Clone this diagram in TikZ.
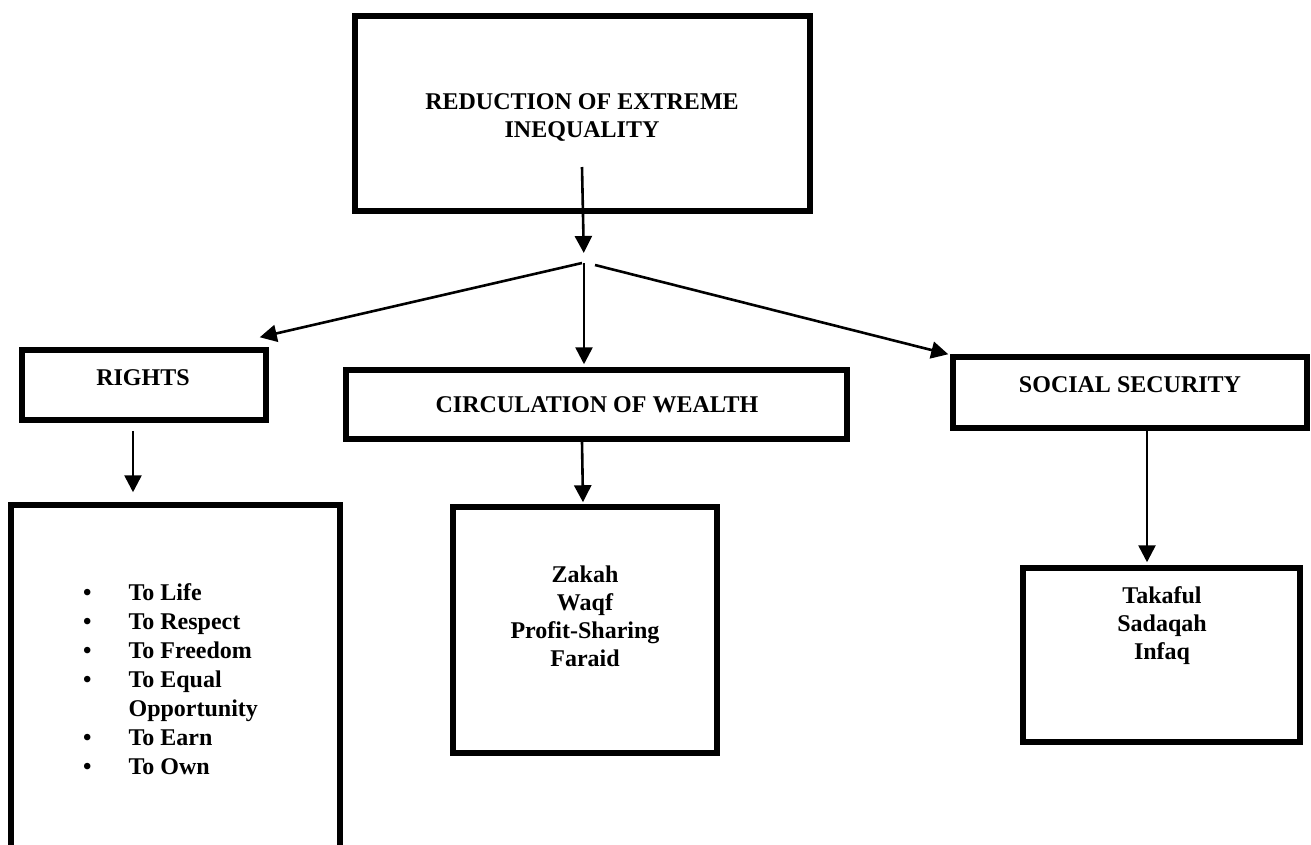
\documentclass[tikz,border=0pt]{standalone}
\usepackage{fontspec}
\setmainfont{Liberation Serif}
\usetikzlibrary{arrows.meta,positioning}
\tikzset{
  box/.style={draw=black,line width=5.5pt,inner sep=0pt},
  boxtext/.style={font=\bfseries\fontsize{24}{28}\selectfont,align=center,
    inner sep=0pt},
  arrow/.style={-{Triangle[length=17pt,width=17pt]},line width=2.6pt}
}

\begin{document}
\begin{tikzpicture}[x=1pt,y=-1pt]
  \useasboundingbox (0,0) rectangle (1311,844);
  \clip (0,0) rectangle (1311,844);
  % boxes
  \node[box,minimum width=455pt,minimum height=195pt] (top) at (582.5,113.5) {};
  \node[box,minimum width=244pt,minimum height=70pt] (rights) at (144,385) {};
  \node[box,minimum width=329pt,minimum height=375pt] (rlist) at (175.5,692.5) {};
  \node[box,minimum width=501pt,minimum height=69pt] (circ) at (596.5,404.5) {};
  \node[box,minimum width=264pt,minimum height=246pt] (zakah) at (585,630) {};
  \node[box,minimum width=354pt,minimum height=71pt] (social) at (1130,392.5) {};
  \node[box,minimum width=277pt,minimum height=174pt] (takaful) at (1161.5,655) {};
  % texts
  \node[boxtext] (toptext) at (582,117) {REDUCTION OF EXTREME\\INEQUALITY};
  \node[boxtext] (rightstext) at (143,378) {RIGHTS};
  \node[boxtext] (circtext) at (597,405) {CIRCULATION OF WEALTH};
  \node[boxtext] (socialtext) at (1130,385) {SOCIAL SECURITY};
  \node[boxtext] (zakahtext) at (585,616) {Zakah\\Waqf\\Profit-Sharing\\Faraid};
  \node[boxtext] (takafultext) at (1162,626) {Takaful\\Sadaqah\\Infaq};
  \node[boxtext,font=\bfseries\fontsize{24}{29}\selectfont,anchor=north west]
    (rlisttext) at (83,580) {%
    \begin{tabular}{@{}c@{\hspace{37pt}}l@{}}
      \textbullet & To Life\\
      \textbullet & To Respect\\
      \textbullet & To Freedom\\
      \textbullet & To Equal\\
                  & Opportunity\\
      \textbullet & To Earn\\
      \textbullet & To Own
    \end{tabular}};
  % connectors
  \coordinate (topout) at (582,167);
  \coordinate (hub) at (584,263);
  \draw[arrow,shorten >=10pt] (topout) -- (hub);
  \draw[arrow] ([xshift=-2pt]hub) -- ([xshift=-9pt,yshift=10pt]rights.north east);
  \draw[arrow] (hub) -- ([yshift=3pt]hub |- circ.north);
  \draw[arrow] ([xshift=11pt,yshift=-2pt]hub) -- ([xshift=-2pt]social.north west);
  \draw[arrow] ([xshift=-11pt,yshift=-8pt]rights.south)
    -- ([xshift=-11pt,yshift=10pt]rights.south |- rlist.north);
  \draw[arrow] ([xshift=-3pt]zakah.north |- circ.south)
    -- ([xshift=-2pt,yshift=2pt]zakah.north);
  \draw[arrow] ([xshift=17pt]social.south)
    -- ([xshift=17pt,yshift=3pt]social.south |- takaful.north);
\end{tikzpicture}
\end{document}
